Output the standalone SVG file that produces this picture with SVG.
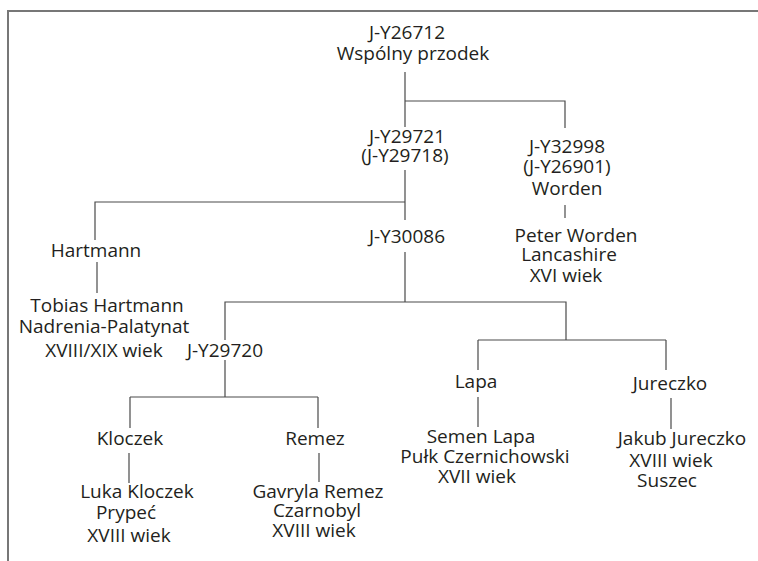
<svg xmlns="http://www.w3.org/2000/svg" width="758" height="561" viewBox="0 0 758 561">
<style>
text{font-family:"Open Sans","Noto Sans","Liberation Sans",sans-serif;font-size:19px;fill:#231f20;text-anchor:middle}
.c{stroke:#4a4a4a;stroke-width:1.2;fill:none}
.f{stroke:#777;stroke-width:2;fill:none}
</style>
<rect width="758" height="561" fill="#fff"/>
<path class="f" d="M8,561V11H758"/>
<g id="connectors">
<path class="c" d="M405,72V127M405,101H565V128"/>
<path class="c" d="M405,170V220M405,202H95V240"/>
<path class="c" d="M565,205V218"/>
<path class="c" d="M97,262V293"/>
<path class="c" d="M405,252V302M405,302H225V340M405,302H566V340M478,340H666M478,340V370M666,340V370"/>
<path class="c" d="M225,360V397M130,397H318M130,397V428M318,397V428"/>
<path class="c" d="M129,453V483M319,453V482"/>
<path class="c" d="M478,397V427M671,398V429"/>
</g>
<g id="n-root"><text x="407" y="39">J-Y26712</text><text x="413" y="60">Wspólny przodek</text></g>
<g id="n-y29721"><text x="407" y="143">J-Y29721</text><text x="405" y="162">(J-Y29718)</text></g>
<g id="n-y32998"><text x="567" y="153">J-Y32998</text><text x="567" y="173">(J-Y26901)</text><text x="567" y="195">Worden</text></g>
<g id="n-worden"><text x="576" y="242">Peter Worden</text><text x="569" y="261">Lancashire</text><text x="566" y="282">XVI wiek</text></g>
<g id="n-hartmann"><text x="96" y="257">Hartmann</text></g>
<g id="n-tobias"><text x="107" y="312">Tobias Hartmann</text><text x="104" y="333">Nadrenia-Palatynat</text><text x="104" y="357">XVIII/XIX wiek</text></g>
<g id="n-y30086"><text x="407" y="243">J-Y30086</text></g>
<g id="n-y29720"><text x="225" y="357">J-Y29720</text></g>
<g id="n-kloczek"><text x="130" y="445">Kloczek</text></g>
<g id="n-remez"><text x="315" y="445">Remez</text></g>
<g id="n-luka"><text x="137" y="498">Luka Kloczek</text><text x="126" y="519">Prypeć</text><text x="129" y="542">XVIII wiek</text></g>
<g id="n-gavryla"><text x="318" y="498">Gavryla Remez</text><text x="317" y="517">Czarnobyl</text><text x="314" y="537">XVIII wiek</text></g>
<g id="n-lapa"><text x="476" y="388">Lapa</text></g>
<g id="n-jureczko"><text x="670" y="390">Jureczko</text></g>
<g id="n-semen"><text x="481" y="443">Semen Lapa</text><text x="485" y="463">Pułk Czernichowski</text><text x="477" y="483">XVII wiek</text></g>
<g id="n-jakub"><text x="682" y="445">Jakub Jureczko</text><text x="671" y="467">XVIII wiek</text><text x="667" y="487">Suszec</text></g>
</svg>
